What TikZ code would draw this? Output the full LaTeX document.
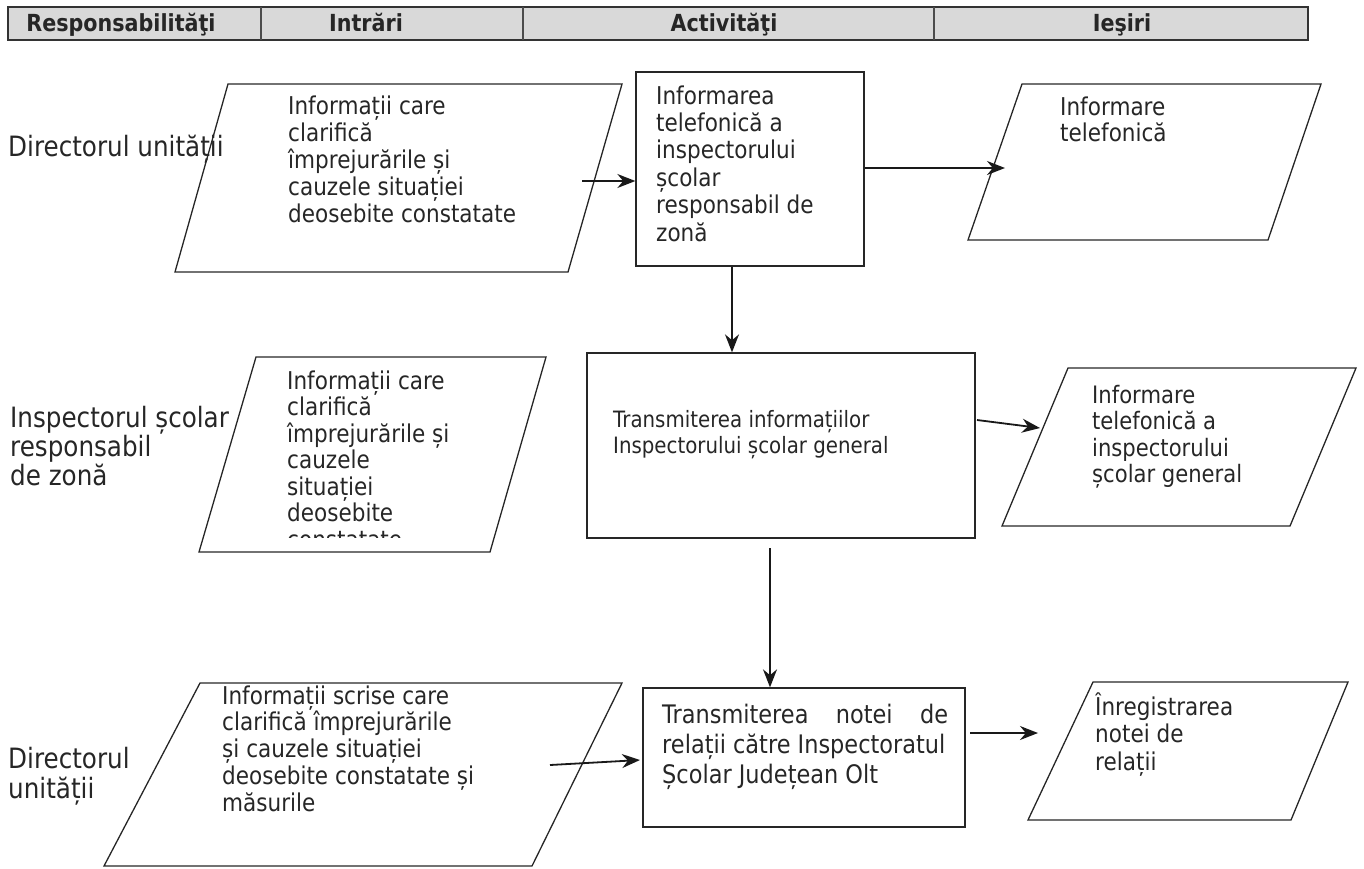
\documentclass[tikz,border=0pt]{standalone}
\usepackage{fontspec}
\setmainfont[FakeStretch=0.88]{DejaVu Sans}
\usetikzlibrary{arrows.meta}
\begin{document}
\begin{tikzpicture}[x=1pt,y=-1pt,
  txt/.style={anchor=base west, inner sep=0pt, align=left, font=\fontsize{24.5}{27}\selectfont, text=black!85},
  lbl/.style={anchor=base west, inner sep=0pt, align=left, font=\fontsize{28}{26}\selectfont, text=black!85},
  shp/.style={draw=black!85, line width=1.3pt},
  box/.style={shp, inner sep=0pt},
  arr/.style={-{Stealth[length=18pt,width=14pt]}, line width=1.8pt, draw=black!90},
  hdr/.style={font=\bfseries\fontsize{23.5}{25}\selectfont, text=black!85, inner sep=0pt}]
\useasboundingbox (0,0) rectangle (1364,868);
% header
\draw[fill=gray!30, line width=1.6pt, draw=black!80] (8,7) rectangle (1308,40);
\foreach \xx in {261,523,934} \draw[line width=1.3pt, draw=black!70] (\xx,7) -- (\xx,40);
\node[hdr, anchor=base] (h1) at (121,31.5) {Responsabilităţi};
\node[hdr, anchor=base] (h2) at (366,31.5) {Intrări};
\node[hdr, anchor=base] (h3) at (724,31.5) {Activităţi};
\node[hdr, anchor=base] (h4) at (1122,31.5) {Ieşiri};
% left labels (base = last line)
\node[lbl] (r1) at (8,156) {Directorul unității};
\node[lbl] (r2) at (10,485) {Inspectorul școlar\\responsabil\\de zonă};
\node[lbl, font=\fontsize{28}{30}\selectfont] (r3) at (8,798) {Directorul\\unității};
% parallelograms
\draw[shp] (228,84) -- (622,84) -- (568,272) -- (175,272) -- cycle;
\draw[shp] (256,357) -- (546,357) -- (490,552) -- (199,552) -- cycle;
\draw[shp] (200,683) -- (622,683) -- (532,866) -- (104,866) -- cycle;
\draw[shp] (1022,84) -- (1321,84) -- (1268,240) -- (968,240) -- cycle;
\draw[shp] (1068,368) -- (1356,368) -- (1290,526) -- (1002,526) -- cycle;
\draw[shp] (1093,682) -- (1348,682) -- (1291,820) -- (1028,820) -- cycle;
% rectangles
\node[box, minimum width=228pt, minimum height=194pt] (A1) at (750,169) {};
\node[box, minimum width=388pt, minimum height=185pt] (A2) at (781,445.5) {};
\node[box, minimum width=322pt, minimum height=139pt] (A3) at (804,757.5) {};
% texts (base anchor = baseline of last line)
\node[txt] (t1) at (288,222) {Informații care\\clarifică\\împrejurările și\\cauzele situației\\deosebite constatate};
\node[txt, font=\fontsize{24.5}{27.4}\selectfont] (t2) at (656,241) {Informarea\\telefonică a\\inspectorului\\școlar\\responsabil de\\zonă};
\node[txt, font=\fontsize{24.5}{26}\selectfont] (t3) at (1060,141) {Informare\\telefonică};
\begin{scope}
\clip (150,357) rectangle (600,537);
\node[txt, font=\fontsize{24.5}{26.5}\selectfont] (t4) at (287,548) {Informații care\\clarifică\\împrejurările și\\cauzele\\situației\\deosebite\\constatate};
\end{scope}
\node[txt, font=\fontsize{22.5}{26}\selectfont] (t5) at (613,453) {Transmiterea informațiilor\\Inspectorului școlar general};
\node[txt, font=\fontsize{24}{26.5}\selectfont] (t6) at (1092,482.5) {Informare\\telefonică a\\inspectorului\\școlar general};
\node[txt, font=\fontsize{24.5}{26.7}\selectfont] (t7) at (222,811) {Informații scrise care\\clarifică împrejurările\\și cauzele situației\\deosebite constatate și\\măsurile};
\node[txt, font=\fontsize{25.5}{30}\selectfont] (t8) at (662,783) {\hbox to 286pt{Transmiterea\hfill notei\hfill de}\\relații către Inspectoratul\\Școlar Județean Olt};
\node[txt, font=\fontsize{24.5}{27.5}\selectfont] (t9) at (1095,770) {Înregistrarea\\notei de\\relații};
% connector coordinates
\coordinate (p1e) at (582,181);
\coordinate (o1w) at (1005,168);
\coordinate (c1) at (732,0);
\coordinate (a2e) at (977,420);
\coordinate (o2w) at (1040,428);
\coordinate (c2) at (770,548);
\coordinate (p3e) at (550,765);
\coordinate (a3w) at (640,760);
\coordinate (a3e) at (970,733);
\coordinate (o3w) at (1038,733);
% arrows
\draw[arr] (p1e) -- (p1e -| A1.west);
\draw[arr] (o1w -| A1.east) -- (o1w);
\draw[arr] (c1 |- A1.south) -- (c1 |- A2.north);
\draw[arr] (a2e) -- (o2w);
\draw[arr] (c2) -- (c2 |- A3.north);
\draw[arr] (p3e) -- (a3w);
\draw[arr] (a3e) -- (o3w);
\end{tikzpicture}
\end{document}
